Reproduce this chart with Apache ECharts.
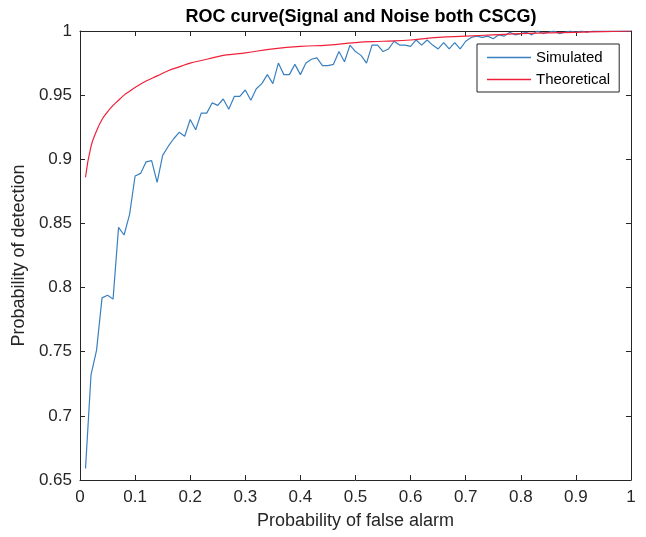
<!DOCTYPE html>
<html>
<head>
<meta charset="utf-8">
<script src="https://cdn.jsdelivr.net/npm/echarts@6/dist/echarts.min.js"></script>
<style>
html,body{margin:0;padding:0;background:#fff;}
#chart{width:646px;height:537px;}
</style>
</head>
<body>
<div id="chart"></div>
<script>
// Simulated ROC points
const simPf = [0.01,0.02,0.03,0.04,0.05,0.06,0.07,0.08,0.09,0.10,
  0.11,0.12,0.13,0.14,0.15,0.16,0.17,0.18,0.19,0.20,
  0.21,0.22,0.23,0.24,0.25,0.26,0.27,0.28,0.29,0.30,
  0.31,0.32,0.33,0.34,0.35,0.36,0.37,0.38,0.39,0.40,
  0.41,0.42,0.43,0.44,0.45,0.46,0.47,0.48,0.49,0.50,
  0.51,0.52,0.53,0.54,0.55,0.56,0.57,0.58,0.59,0.60,
  0.61,0.62,0.63,0.64,0.65,0.66,0.67,0.68,0.69,0.70,
  0.71,0.72,0.73,0.74,0.75,0.76,0.77,0.78,0.79,0.80,
  0.81,0.82,0.83,0.84,0.85,0.86,0.87,0.88,0.89,0.90,
  0.91,0.92,0.93,0.94,0.95,0.96,0.97,0.98,0.99,1.00];
const simPd = [0.659,0.732,0.751,0.792,0.794,0.791,0.847,0.841,0.857,0.887,
  0.889,0.898,0.899,0.882,0.903,0.910,0.916,0.921,0.918,0.931,
  0.923,0.936,0.936,0.944,0.942,0.947,0.939,0.949,0.949,0.954,
  0.946,0.955,0.959,0.966,0.959,0.975,0.966,0.966,0.974,0.966,
  0.975,0.978,0.979,0.973,0.973,0.974,0.984,0.976,0.989,0.984,
  0.981,0.975,0.989,0.989,0.984,0.986,0.992,0.989,0.989,0.988,
  0.993,0.989,0.993,0.989,0.986,0.991,0.986,0.991,0.986,0.992,
  0.995,0.996,0.995,0.996,0.994,0.997,0.996,0.999,0.997,0.998,
  0.999,0.997,1.000,0.998,0.999,1.000,0.998,0.999,1.000,0.999,
  1.000,0.999,1.000,1.000,1.000,1.000,1.000,1.000,1.000,1.000];
// Theoretical ROC points
const theoPf = [0.01,0.02,0.03,0.04,0.05,0.06,0.07,0.08,0.09,0.10,
  0.12,0.14,0.16,0.18,0.20,0.22,0.24,0.26,0.28,0.30,
  0.35,0.40,0.45,0.50,0.55,0.60,0.65,0.70,0.75,0.80,0.85,0.90,0.95,1.00];
const theoPd = [0.886,0.910,0.922,0.931,0.937,0.942,0.946,0.950,0.953,0.956,
  0.961,0.965,0.969,0.972,0.975,0.977,0.979,0.981,0.982,0.983,
  0.986,0.988,0.989,0.991,0.992,0.993,0.995,0.996,0.997,0.998,0.9985,0.999,0.9995,1.000];
const xTicks = ['0','0.1','0.2','0.3','0.4','0.5','0.6','0.7','0.8','0.9','1'];
const yTicks = ['0.65','0.7','0.75','0.8','0.85','0.9','0.95','1'];

const FONT = '"Liberation Sans", Arial, Helvetica, sans-serif';
const AX = '#262626';
const chart = echarts.init(document.getElementById('chart'), null, {renderer:'canvas'});

function axisBase(show) {
  return {
    axisLine:{show:true, onZero:false, lineStyle:{color:AX, width:1}},
    axisTick:{show:true, inside:true, length:5, lineStyle:{color:AX, width:1}},
    splitLine:{show:false},
    axisLabel:{show:show, color:AX, fontFamily:FONT, fontSize:17}
  };
}

chart.setOption({
  animation:false,
  backgroundColor:'#fff',
  title:{
    text:'ROC curve(Signal and Noise both CSCG)',
    left:356, top:3, textAlign:'center',
    textStyle:{fontFamily:FONT, fontSize:18, fontWeight:'bold', color:'#000'}
  },
  grid:{left:80, right:15, top:31, bottom:57, containLabel:false},
  legend:{
    orient:'vertical', left:477, top:44,
    data:['Simulated','Theoretical'],
    icon:'rect',
    backgroundColor:'#fff', borderColor:AX, borderWidth:1,
    padding:[6,9,5,10], itemGap:7, itemWidth:44, itemHeight:1.3,
    textStyle:{fontFamily:FONT, fontSize:15, color:'#000'}
  },
  xAxis:[
    Object.assign(axisBase(true), {
      type:'value', min:0, max:1, interval:0.1, position:'bottom',
      name:'Probability of false alarm', nameLocation:'middle', nameGap:32,
      nameTextStyle:{fontFamily:FONT, fontSize:18, color:AX},
      axisLabel:{show:true, color:AX, fontFamily:FONT, fontSize:17, margin:9,
        formatter:(v)=>{const i=Math.round(v*10); return xTicks[i]!==undefined?xTicks[i]:'';}}
    }),
    Object.assign(axisBase(false), {type:'value', min:0, max:1, interval:0.1, position:'top'})
  ],
  yAxis:[
    Object.assign(axisBase(true), {
      type:'value', min:0.65, max:1, interval:0.05, position:'left',
      name:'Probability of detection', nameLocation:'middle', nameGap:46,
      nameTextStyle:{fontFamily:FONT, fontSize:18, color:AX},
      axisLabel:{show:true, color:AX, fontFamily:FONT, fontSize:17, margin:8,
        formatter:(v)=>{const i=Math.round((v-0.65)/0.05); return yTicks[i]!==undefined?yTicks[i]:'';}}
    }),
    Object.assign(axisBase(false), {type:'value', min:0.65, max:1, interval:0.05, position:'right'})
  ],
  series:[
    {
      name:'Simulated', type:'line', symbol:'none',
      data: simPf.map((x,i)=>[x, simPd[i]]),
      lineStyle:{color:'#3a80c0', width:1.2}, itemStyle:{color:'#3a80c0'}
    },
    {
      name:'Theoretical', type:'line', symbol:'none', smooth:true,
      data: theoPf.map((x,i)=>[x, theoPd[i]]),
      lineStyle:{color:'#f0203a', width:1.2}, itemStyle:{color:'#f0203a'}
    }
  ]
});
</script>
</body>
</html>
